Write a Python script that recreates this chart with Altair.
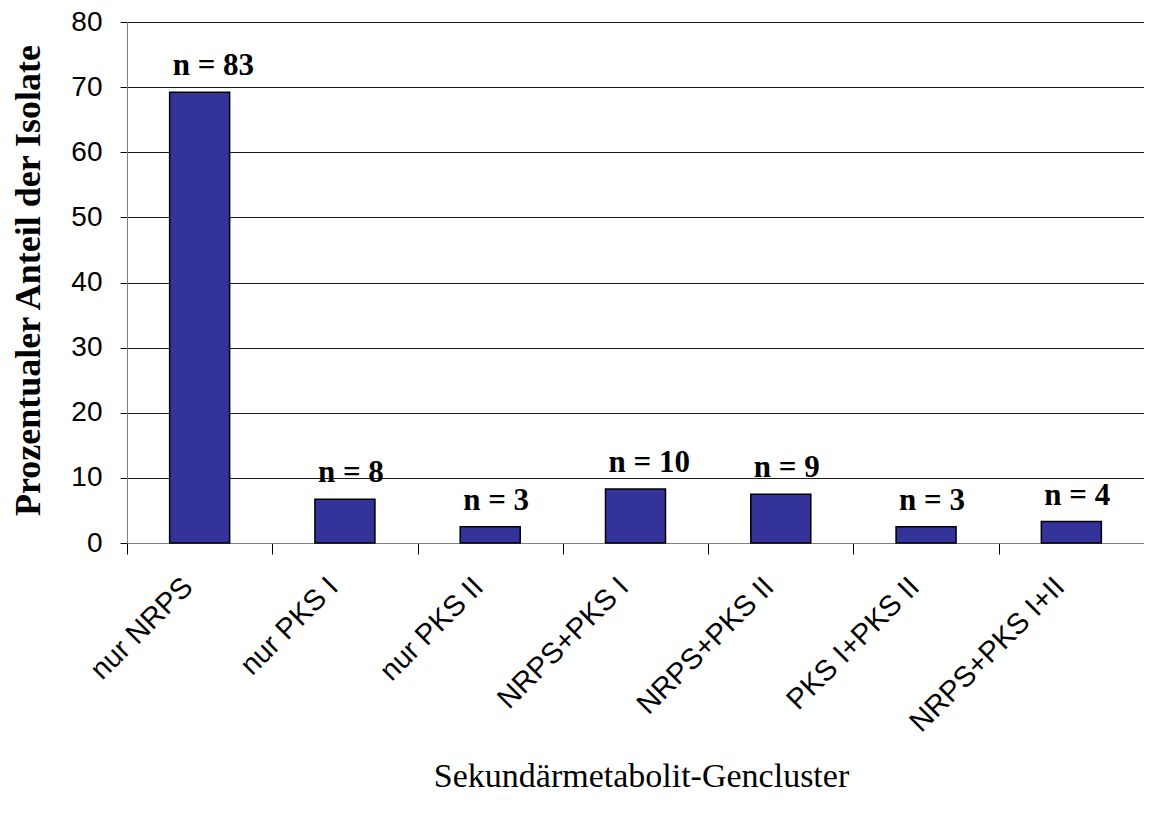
import altair as alt
import pandas as pd

categories = ["nur NRPS", "nur PKS I", "nur PKS II", "NRPS+PKS I", "NRPS+PKS II", "PKS I+PKS II", "NRPS+PKS I+II"]
percent = [69.2, 6.7, 2.5, 8.3, 7.5, 2.5, 3.3]
counts = [83, 8, 3, 10, 9, 3, 4]

df = pd.DataFrame({
    "cat": categories,
    "pct": percent,
    "label": [f"n = {n}" for n in counts],
})

x = alt.X("cat:N", sort=categories, title="Sekundärmetabolit-Gencluster",
          scale=alt.Scale(paddingInner=0, paddingOuter=0),
          axis=alt.Axis(labelAngle=-45, labelAlign="right", labelBaseline="top",
                        labelFont="Liberation Sans", labelFontSize=29, labelColor="#000",
                        labelPadding=18, labelOffset=-22, labelLimit=0,
                        tickBand="extent", tickSize=11, tickColor="#000", tickWidth=1,
                        domainColor="#808080", domainWidth=1,
                        titleFont="Liberation Serif", titleFontSize=34, titleFontWeight="normal",
                        titleColor="#000", titleBaseline="alphabetic", titleY=243, titleX=514,
                        titleAlign="center", grid=False))
y = alt.Y("pct:Q", title="Prozentualer Anteil der Isolate",
          scale=alt.Scale(domain=[0, 80], nice=False),
          axis=alt.Axis(values=[0, 10, 20, 30, 40, 50, 60, 70, 80],
                        labelFont="Liberation Sans", labelFontSize=28, labelColor="#000",
                        labelPadding=18, tickSize=7, tickColor="#000",
                        domainColor="#808080", domainWidth=1,
                        grid=True, gridColor="#1a1a1a", gridWidth=1,
                        titleFont="Liberation Serif", titleFontSize=36, titleFontWeight="bold",
                        titleColor="#000", titleX=-99, titleY=258, titleAlign="center",
                        titleBaseline="middle", titleAngle=-90))

bars = alt.Chart(df).mark_bar(width=60, color="#333399", stroke="#000", strokeWidth=1.5).encode(
    x=x, y=y
)
labels = alt.Chart(df).mark_text(align="left", baseline="alphabetic", dx=-27, dy=-17,
                                 font="Liberation Serif", fontSize=31, fontWeight="bold",
                                 color="#000").encode(
    x=alt.X("cat:N", sort=categories),
    y=alt.Y("pct:Q"),
    text="label:N",
)

chart = (bars + labels).properties(
    width=1017, height=521,
    autosize=alt.AutoSizeParams(type="none"),
    padding={"left": 119, "top": 14, "right": 0, "bottom": 262},
).configure_view(stroke=None).configure(background="#ffffff")

chart.save("out.html", embed_options={"renderer": "svg", "actions": False})
